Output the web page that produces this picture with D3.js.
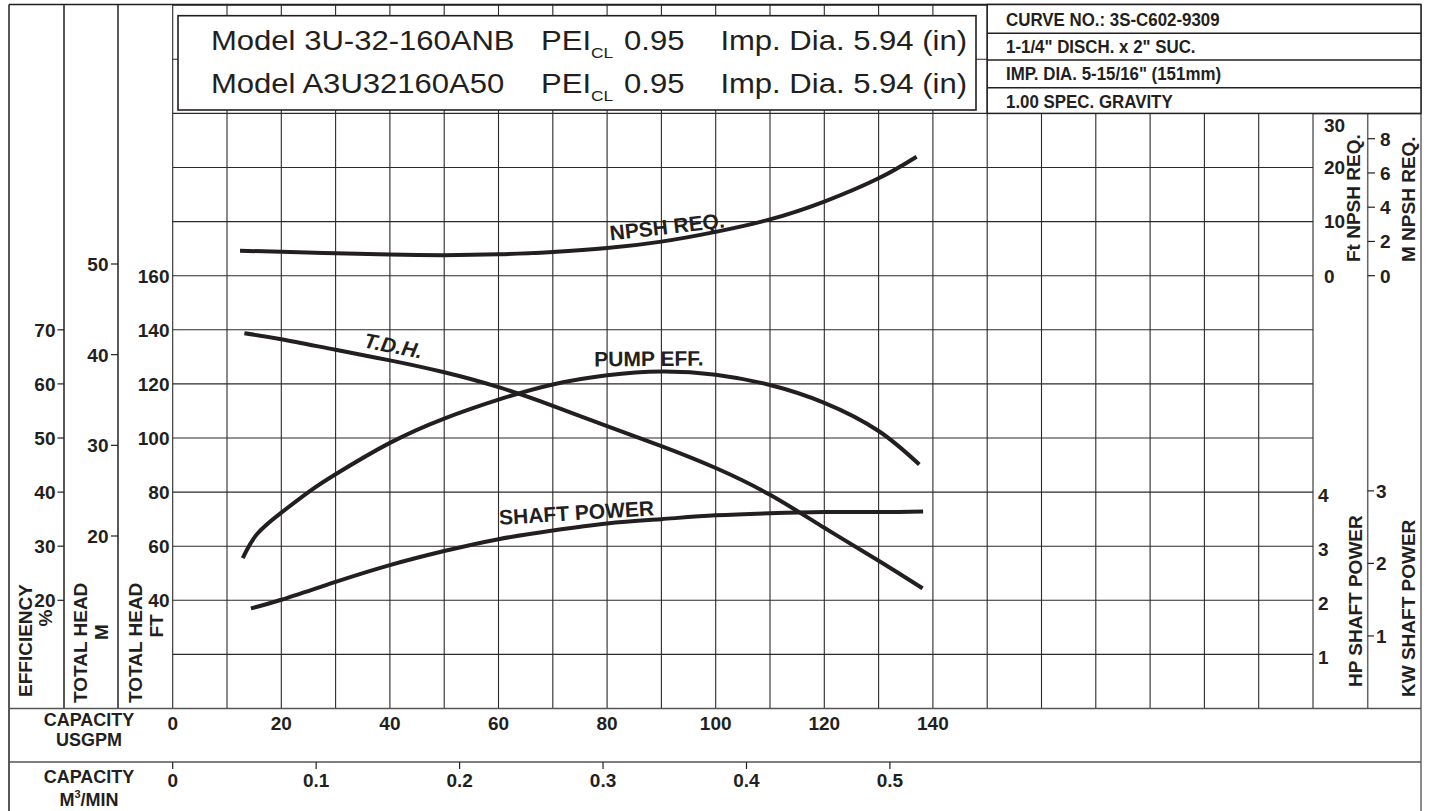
<!DOCTYPE html>
<html><head><meta charset="utf-8">
<script src="https://cdn.jsdelivr.net/npm/d3@7"></script>
<style>
html,body{margin:0;padding:0;background:#fff;}
svg{display:block;font-family:"Liberation Sans",Arial,Helvetica,sans-serif;}
</style></head><body>
<svg id="chart" width="1429" height="811"></svg>
<script>
// ---------------- DATA ----------------
const capacityTicksGpm = [0, 20, 40, 60, 80, 100, 120, 140];
const capacityTicksM3 = [0, 0.1, 0.2, 0.3, 0.4, 0.5];
const headFtTicks = [40, 60, 80, 100, 120, 140, 160];
const headMTicks = [20, 30, 40, 50];
const efficiencyTicks = [20, 30, 40, 50, 60, 70];
const npshFtTicks = [0, 10, 20, 30];
const npshMTicks = [0, 2, 4, 6, 8];
const hpTicks = [1, 2, 3, 4];
const kwTicks = [1, 2, 3];

const tdhGpm = [13.2, 20, 30, 40, 50, 60, 70, 80, 90, 100, 110, 120, 130, 138.1];
const tdhFt  = [138.7, 136.5, 132.6, 128.7, 124.3, 118.8, 111.9, 104.4, 97.0, 88.9, 79.0, 66.8, 54.6, 44.4];

const effGpm = [12.9, 15.5, 20, 25, 30, 40, 50, 60, 70, 80, 90, 100, 110, 120, 130, 137.5];
const effPct = [27.8, 32.2, 36.2, 40.0, 43.3, 49.1, 53.6, 57.1, 59.9, 61.6, 62.3, 61.7, 59.8, 56.5, 51.3, 45.1];

const powerGpm = [14.4, 20, 30, 40, 50, 60, 70, 80, 90, 100, 110, 120, 130, 138.2];
const powerHp  = [1.85, 2.01, 2.34, 2.65, 2.91, 3.13, 3.29, 3.42, 3.50, 3.57, 3.61, 3.63, 3.63, 3.64];

const npshGpm = [12.4, 20, 30, 40, 50, 60, 70, 80, 90, 100, 110, 120, 130, 137];
const npshFt  = [4.6, 4.45, 4.15, 3.9, 3.8, 3.95, 4.4, 5.1, 6.3, 8.1, 10.4, 13.7, 18.0, 22.0];

const modelNames = ["Model 3U-32-160ANB", "Model A3U32160A50"];
const peiValues = ["0.95", "0.95"];
const impDiaTexts = ["Imp. Dia. 5.94 (in)", "Imp. Dia. 5.94 (in)"];
const infoLines = ["CURVE NO.: 3S-C602-9309", "1-1/4\" DISCH. x 2\" SUC.", "IMP. DIA. 5-15/16\" (151mm)", "1.00 SPEC. GRAVITY"];

// ---------------- SCALES ----------------
const INK = "#231f20";
const svg = d3.select("#chart");
const x = d3.scaleLinear().domain([0, 210]).range([172.7, 1313]);
const yFt = d3.scaleLinear().domain([0, 260]).range([708.5, 5.2]);
const yEff = d3.scaleLinear().domain([0, 130]).range([708.5, 5.2]);
const yM = d3.scaleLinear().domain([20, 50]).range([536, 264]);
const yNpshFt = d3.scaleLinear().domain([0, 30]).range([yFt(160), yFt(220)]);
const yNpshM = d3.scaleLinear().domain([0, 8]).range([yFt(160), yFt(160) - 137]);
const yHp = d3.scaleLinear().domain([0, 13]).range([708.5, 5.2]);
const KW_TO_HP = 1.341;
const GPM_PER_M3MIN = 264.172;
const xM3 = v => x(v * GPM_PER_M3MIN);

const L = 9, R = 1421, TOP = 4.5, BOT = 708.5, PTOP = yFt(220);

// ---------------- GRID ----------------
const grid = svg.append("g").attr("stroke", "#2a2a2a").attr("stroke-width", 1.1);
grid.selectAll("line.v").data(d3.range(0, 211, 10)).join("line")
  .attr("x1", d => x(d)).attr("x2", d => x(d)).attr("y1", TOP).attr("y2", BOT);
grid.selectAll("line.h").data(d3.range(0, 261, 20)).join("line")
  .attr("x1", x(0)).attr("x2", x(210)).attr("y1", d => yFt(d)).attr("y2", d => yFt(d));

// frame lines
const frame = svg.append("g").attr("stroke", INK).attr("stroke-width", 1.5);
frame.append("line").attr("x1", L).attr("x2", R).attr("y1", TOP).attr("y2", TOP);
frame.append("line").attr("x1", L).attr("x2", L).attr("y1", TOP).attr("y2", 811);
frame.append("line").attr("x1", R).attr("x2", R).attr("y1", TOP).attr("y2", 811).attr("stroke", "#666");
frame.append("line").attr("x1", 64).attr("x2", 64).attr("y1", TOP).attr("y2", BOT);
frame.append("line").attr("x1", 118).attr("x2", 118).attr("y1", TOP).attr("y2", BOT);
frame.append("line").attr("x1", 1367.7).attr("x2", 1367.7).attr("y1", PTOP).attr("y2", BOT).attr("stroke", "#666");
frame.append("line").attr("x1", L).attr("x2", R).attr("y1", BOT).attr("y2", BOT).attr("stroke", "#555");
frame.append("line").attr("x1", L).attr("x2", R).attr("y1", 762).attr("y2", 762).attr("stroke", "#555");
frame.append("line").attr("x1", x(210)).attr("x2", R).attr("y1", PTOP).attr("y2", PTOP);

// ---------------- HEADER BOXES ----------------
svg.append("rect").attr("x", 178).attr("y", 15.7).attr("width", 976 - 178).attr("height", 110 - 15.7)
  .attr("fill", "#fff").attr("stroke", INK).attr("stroke-width", 1.6);
const mb = svg.append("g").attr("fill", INK).style("font-size", "27px");
const SX = 1.15;
modelNames.forEach((m, i) => {
  const by = 50 + i * 43;
  mb.append("text").attr("transform", `translate(211,${by}) scale(${SX},1)`).text(m);
  const pei = mb.append("text").attr("transform", `translate(541,${by}) scale(${SX},1)`);
  pei.append("tspan").text("PEI");
  pei.append("tspan").attr("dy", 8).style("font-size", "15px").text("CL");
  mb.append("text").attr("transform", `translate(624,${by}) scale(${SX},1)`).text(peiValues[i]);
  mb.append("text").attr("transform", `translate(967,${by}) scale(${SX},1)`).attr("text-anchor", "end").text(impDiaTexts[i]);
});

const ib = svg.append("g");
ib.append("rect").attr("x", x(150)).attr("y", TOP).attr("width", R - x(150)).attr("height", PTOP - TOP)
  .attr("fill", "#fff").attr("stroke", INK).attr("stroke-width", 1.5);
[33.3, 60, 87.7].forEach(yy => ib.append("line").attr("x1", x(150)).attr("x2", R).attr("y1", yy).attr("y2", yy)
  .attr("stroke", INK).attr("stroke-width", 1.5));
const infoBase = [26, 53.3, 80, 107.5];
infoLines.forEach((t, i) => {
  ib.append("text").attr("transform", `translate(1006,${infoBase[i]}) scale(0.965,1)`)
    .attr("fill", INK).style("font-size", "17.5px").style("font-weight", "bold").text(t);
});

// ---------------- CURVES ----------------
const curveGen = (xs, ys, yScale) => d3.line().curve(d3.curveNatural)
  .x((d, i) => x(xs[i])).y((d, i) => yScale(ys[i]))(xs);
const cg = svg.append("g").attr("fill", "none").attr("stroke", INK).attr("stroke-width", 4);
cg.append("path").attr("d", curveGen(tdhGpm, tdhFt, yFt));
cg.append("path").attr("d", curveGen(effGpm, effPct, yEff));
cg.append("path").attr("d", curveGen(powerGpm, powerHp, yHp));
cg.append("path").attr("d", curveGen(npshGpm, npshFt, yNpshFt));

const lab = svg.append("g").attr("fill", INK).style("font-weight", "bold").style("font-size", "21px").attr("text-anchor", "middle");
lab.append("text").attr("transform", "translate(668,234) rotate(-6.5)").text("NPSH REQ.");
lab.append("text").attr("transform", "translate(392,353) rotate(11)").style("font-style", "italic").text("T.D.H.");
lab.append("text").attr("transform", "translate(649,366) rotate(-0.5)").text("PUMP EFF.");
lab.append("text").attr("transform", "translate(577,520) rotate(-3.5)").text("SHAFT POWER");

// ---------------- AXES ----------------
const ax = svg.append("g").attr("fill", INK).style("font-weight", "bold").style("font-size", "19px");
const tk = svg.append("g").attr("stroke", INK).attr("stroke-width", 1.2);

efficiencyTicks.forEach(v => {
  ax.append("text").attr("x", 55.5).attr("y", yEff(v)).attr("dy", "0.36em").attr("text-anchor", "end").text(v);
  tk.append("line").attr("x1", 57.5).attr("x2", 64).attr("y1", yEff(v)).attr("y2", yEff(v));
});
headMTicks.forEach(v => {
  ax.append("text").attr("x", 108.5).attr("y", yM(v)).attr("dy", "0.36em").attr("text-anchor", "end").text(v);
  tk.append("line").attr("x1", 111).attr("x2", 118).attr("y1", yM(v)).attr("y2", yM(v));
});
headFtTicks.forEach(v => {
  ax.append("text").attr("x", 169.5).attr("y", yFt(v)).attr("dy", "0.36em").attr("text-anchor", "end").text(v);
});
npshFtTicks.forEach(v => {
  const yy = Math.max(yNpshFt(v), PTOP + 12);
  ax.append("text").attr("x", 1324).attr("y", yy).attr("dy", "0.36em").text(v);
});
npshMTicks.forEach(v => {
  ax.append("text").attr("x", 1380).attr("y", yNpshM(v)).attr("dy", "0.36em").text(v);
  tk.append("line").attr("x1", 1367.7).attr("x2", 1375).attr("y1", yNpshM(v)).attr("y2", yNpshM(v));
});
hpTicks.forEach(v => {
  ax.append("text").attr("x", 1318).attr("y", yHp(v) + 3).attr("dy", "0.36em").text(v);
});
kwTicks.forEach(v => {
  const yy = yHp(v * KW_TO_HP);
  ax.append("text").attr("x", 1376).attr("y", yy).attr("dy", "0.36em").text(v);
  tk.append("line").attr("x1", 1367.7).attr("x2", 1374).attr("y1", yy).attr("y2", yy);
});
capacityTicksGpm.forEach(v => {
  ax.append("text").attr("x", x(v)).attr("y", 730).attr("text-anchor", "middle").text(v);
});
capacityTicksM3.forEach(v => {
  ax.append("text").attr("x", xM3(v)).attr("y", 787).attr("text-anchor", "middle").text(v === 0 ? "0" : v.toFixed(1));
  tk.append("line").attr("x1", xM3(v)).attr("x2", xM3(v)).attr("y1", 762).attr("y2", 769);
});

// titles
const tt = svg.append("g").attr("fill", INK).style("font-weight", "bold").style("font-size", "19px");
const vtitle = (tx, ty, text, anchor) => tt.append("text")
  .attr("transform", `translate(${tx},${ty}) rotate(-90)`).attr("text-anchor", anchor || "start").text(text);
vtitle(31.5, 697, "EFFICIENCY");
vtitle(52, 618, "%", "middle");
vtitle(87.3, 703, "TOTAL HEAD");
vtitle(108.3, 632, "M", "middle");
vtitle(141.7, 703, "TOTAL HEAD");
vtitle(163.3, 626, "FT", "middle");
vtitle(1360, 262, "Ft NPSH REQ.");
vtitle(1415, 262, "M NPSH REQ.");
vtitle(1361.5, 687, "HP SHAFT POWER");
vtitle(1415, 697, "KW SHAFT POWER");

const ct = svg.append("g").attr("fill", INK).style("font-weight", "bold").style("font-size", "18px").attr("text-anchor", "middle");
ct.append("text").attr("x", 89).attr("y", 726).text("CAPACITY");
ct.append("text").attr("x", 89).attr("y", 746).text("USGPM");
ct.append("text").attr("x", 89).attr("y", 783).text("CAPACITY");
const m3t = ct.append("text").attr("x", 89).attr("y", 806);
m3t.append("tspan").text("M");
m3t.append("tspan").attr("dy", -8).style("font-size", "11px").text("3");
m3t.append("tspan").attr("dy", 8).text("/MIN");
</script>
</body></html>
